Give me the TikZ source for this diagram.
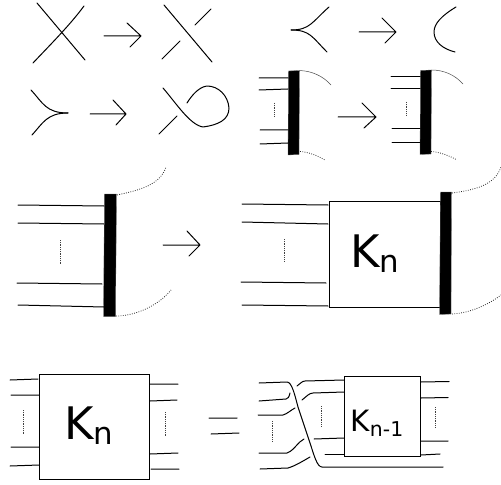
\documentclass[tikz,border=0pt]{standalone}
\usepackage{fontspec}
\setmainfont{DejaVu Sans}
\newcommand{\KnLabel}{\fontsize{45}{45}\selectfont K\kern-0.5pt\raisebox{-5bp}{\fontsize{31}{31}\selectfont n}}
\newcommand{\KnmLabel}{\fontsize{29.5}{29.5}\selectfont K\raisebox{-5bp}{\fontsize{20.5}{20.5}\selectfont n-1}}
\tikzset{
  x=1bp,y=-1bp,
  strand/.style={line width=1bp,black,line cap=round,line join=round},
  thinarc/.style={line width=0.5bp,black!70},
  dotarc/.style={line width=0.8bp,black!85,dash pattern=on 0.8bp off 1.5bp},
  vdots/.style={line width=0.7bp,black!75,dash pattern=on 0.7bp off 1.1bp},
  bar/.style={fill=black,draw=black!60,line width=0.3bp},
  kbox/.style={draw=black,line width=1bp,fill=white,inner sep=0pt,minimum width=0pt},
  klabel/.style={inner sep=0pt,anchor=base west},
  arrowline/.style={strand}
}
\begin{document}
\begin{tikzpicture}
\useasboundingbox (0,0) rectangle (501,485);
% Row 1 left
\draw[strand] (37,3) -- (85,60);
\draw[strand] (33,63) .. controls (50,45) and (70,25) .. (84,6);
\draw[arrowline] (104,36) -- (140,36) (127,23) -- (141,36) -- (130,47);
\draw[strand] (164,5) -- (212,62);
\draw[strand] (195,25) -- (211,9);
\draw[strand] (162,59) -- (180,41);
% Row 1 right
\draw[strand] (329,7) .. controls (312,22) and (310,30) .. (291,30);
\draw[strand] (327,52) .. controls (312,37) and (310,30) .. (291,30);
\draw[arrowline] (359,32) -- (395,32) (382,18) -- (396,32) -- (385,43);
\draw[strand] (456,7) .. controls (441,16) and (434,24) .. (434,32) .. controls (434,42) and (443,49) .. (455,52);
% Row 2 left
\draw[strand] (31,90) .. controls (43,103) and (46,113) .. (68,113);
\draw[strand] (32,135) .. controls (43,123) and (47,113) .. (68,113);
\draw[arrowline] (90,114) -- (126,114) (113,100) -- (126,114) -- (116,125);
\draw[strand] (163,88) .. controls (176,103) and (190,125) .. (203,127) .. controls (218,125) and (229,120) .. (229,108) .. controls (228,95) and (218,86) .. (207,86) .. controls (199,87) and (192,95) .. (187,103);
\draw[strand] (159,134) -- (177,116);
% Row 2 bars
\fill[bar] (288.5,71) -- (299.5,70.5) -- (299,154.5) -- (288,155) -- cycle;
\draw[strand] (259,78) -- (288,78) (259,90) -- (288,89) (260,130) -- (288,130) (260,144) -- (288,143);
\draw[vdots] (274,103) -- (274,117);
\draw[thinarc] (299.5,70.5) .. controls (312,71) and (323,76) .. (331,85);
\draw[dotarc] (300,151.5) .. controls (309,152) and (318,156) .. (325,160);
\draw[arrowline] (338,117) -- (375,117) (362,103) -- (376,117) -- (364,128);
\fill[bar] (420.5,70.5) -- (431.5,70) -- (431,154) -- (420,154.5) -- cycle;
\draw[strand] (391,77) -- (420,77) (391,89) -- (420,89) (392,129) -- (420,129) (392,143) -- (420,143);
\draw[vdots] (406,102) -- (406,116);
\draw[thinarc] (431.5,70) .. controls (444,70) and (455,75) .. (463,84);
\draw[dotarc] (431,151.5) .. controls (440,152) and (450,156) .. (457,160);
% Row 3 left
\fill[bar] (104.5,194) -- (116.5,194) -- (115.5,316.5) -- (103.5,316.5) -- cycle;
\draw[strand] (18,205) -- (104,206) (18,223) -- (104,224) (17,283) -- (102,284) (18,305) -- (104,307);
\draw[vdots] (60.5,240) -- (60.5,264);
\draw[dotarc] (117,195) .. controls (140,190) and (160,185) .. (166,167);
\draw[dotarc] (116,316) .. controls (135,316) and (158,306) .. (171,290);
\draw[arrowline] (163,245) -- (199,245) (187,231) -- (200,245) -- (189,256);
% Row 3 right
\draw[strand] (242,204) -- (328,205) (242,222) -- (328,224) (241,282) -- (326,283) (242,305) -- (328,306);
\draw[vdots] (284,239) -- (284,262);
\node[kbox,minimum height=105bp,minimum width=111bp] (k1) at (384.5,254.5) {};
\node[klabel] (k1t) at (350,267) {\KnLabel};
\fill[bar] (440.5,192) -- (451.5,192) -- (451,314) -- (439.5,314.5) -- cycle;
\draw[dotarc] (452,193) .. controls (475,190) and (495,185) .. (501,167);
\draw[dotarc] (452,314) .. controls (470,313) and (488,305) .. (501,295);
% Row 4 left
\node[kbox,minimum height=105bp,minimum width=110bp] (k2) at (94,426.5) {};
\node[klabel] (k2t) at (64,439) {\KnLabel};
\draw[strand] (10,380) -- (38,379) (11,395) -- (39,395) (11,447) -- (39,447) (10,466) -- (39,465);
\draw[vdots] (23,410) -- (23,434);
\draw[strand] (150,384) -- (178,384) (150,401) -- (177,400) (150,454) -- (178,453) (151,469) -- (179,469);
\draw[vdots] (165.5,412) -- (165.5,436);
\draw[strand] (209,418) -- (237,418) (211,434) -- (239,433);
% Row 4 right
\node[kbox,minimum height=80bp,minimum width=76bp] (k3) at (382.5,416) {};
\node[klabel] (k3t) at (350.5,431) {\KnmLabel};
\draw[strand] (421,382) -- (449,381.5) (421,398) -- (448,397.5) (421,441) -- (448,441) (421,455) -- (440,454);
\draw[vdots] (435,407) -- (435,427);
\draw[strand] (259,383) -- (287,382) .. controls (292,382) and (295,396) .. (298,407) -- (310,443) .. controls (314,455) and (317,467) .. (322,467) -- (443,467);
\draw[strand] (259,401) -- (286,399) .. controls (288,399) and (289,397) .. (290,393);
\draw[strand] (297,386) .. controls (300,384) and (302,381) .. (305,381) -- (344,380);
\draw[strand] (302,400) .. controls (306,397) and (309,393) .. (313,393) -- (344,392);
\draw[strand] (258,415) -- (283,415) .. controls (287,414) and (291,410) .. (295,408);
\draw[strand] (259,453) -- (287,453) .. controls (292,451) and (294,448) .. (296,446) .. controls (298,443) and (301,441) .. (304,439);
\draw[strand] (314,439) -- (344,438);
\draw[strand] (325,454) -- (344,454);
\draw[strand] (260,469) -- (288,468) .. controls (295,466) and (303,461) .. (310,457);
\draw[vdots] (272,421) -- (272,441);
\draw[vdots] (321,406) -- (321,426);
\end{tikzpicture}
\end{document}
